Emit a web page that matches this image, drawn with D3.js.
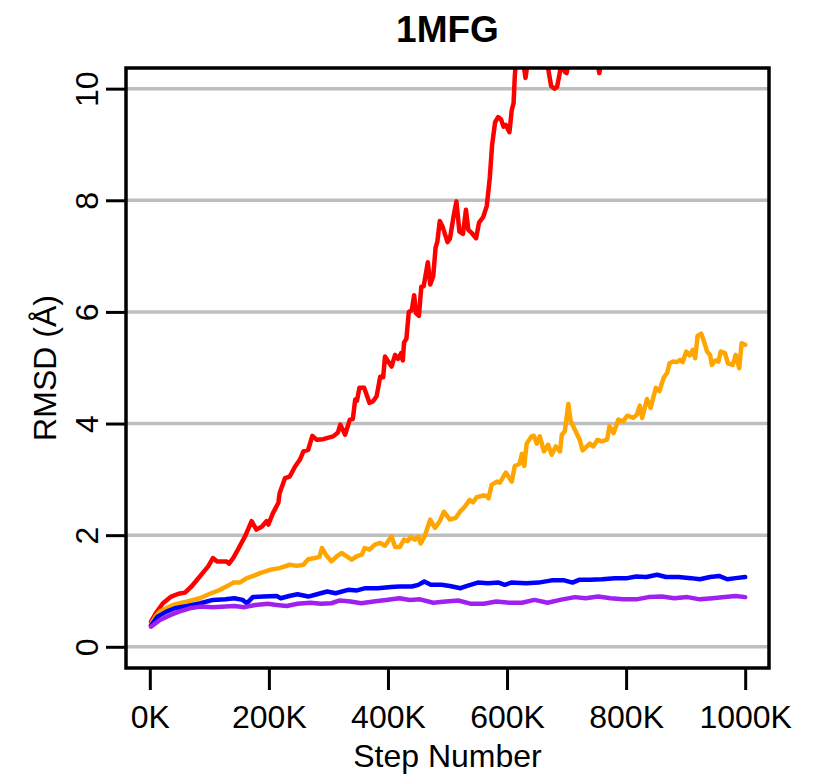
<!DOCTYPE html>
<html>
<head>
<meta charset="utf-8">
<script src="https://cdn.jsdelivr.net/npm/d3@7"></script>
<style>
body { margin: 0; background: #fff; }
svg text { font-family: "Liberation Sans", Arial, Helvetica, sans-serif; fill: #000; }
</style>
</head>
<body>
<script>
// step number is in thousands (K)
var xTicks = [0, 200, 400, 600, 800, 1000];
var yTicks = [0, 2, 4, 6, 8, 10];

var redStep = [2,10,22,36,48,59,70,84,98,106,113,129,133,140,148,160,171,179,188,196,199,207,216,218,227,235,238,244,252,258,266,273,280,291,308,316,320,328,336,341,345,348,352,360,369,375,381,387,392,395,406,412,417,422,425,427,431,435,440,444,447,452,456,460,467,471,476,480,483,487,492,500,504,510,515,520,526,531,535,541,548,553,560,566,571,575,580,585,590,594,598,604,608,611,613,616,622,627,631,635,642,655,665,670,674,680,684,688,692,697,700,704,712,730,748,755,760,775,800,830,860,900,940,1000];
var redRmsd = [0.45,0.6,0.78,0.90,0.95,0.97,1.08,1.26,1.44,1.59,1.53,1.53,1.49,1.59,1.74,1.98,2.25,2.10,2.15,2.25,2.19,2.40,2.58,2.75,3.02,3.05,3.11,3.23,3.35,3.50,3.53,3.78,3.71,3.72,3.77,3.84,3.98,3.80,4.07,4.08,4.43,4.41,4.64,4.64,4.37,4.40,4.49,4.84,4.83,5.20,5.02,5.23,5.16,5.26,5.13,5.45,5.52,6.00,6.03,6.30,5.98,5.93,6.45,6.46,6.89,6.49,6.64,7.15,7.26,7.63,7.52,7.25,7.31,7.70,7.98,7.44,7.40,7.83,7.47,7.41,7.32,7.60,7.70,7.90,8.40,9.00,9.40,9.49,9.45,9.32,9.35,9.22,9.62,9.74,10.22,10.6,10.9,10.5,10.19,10.5,10.9,11.0,10.7,10.3,10.05,10.0,10.03,10.25,10.5,10.3,10.28,10.5,10.9,11.1,10.7,10.28,10.6,11.2,11.6,11.9,12.3,12.6,12.9,13.2];

var orangeStep = [2,10,17,28,39,50,62,73,84,101,118,134,140,151,163,174,185,202,218,235,247,258,266,277,285,289,297,305,314,322,331,339,347,356,361,369,378,387,395,406,412,420,427,433,438,445,451,455,462,471,479,487,494,504,514,521,529,537,543,549,560,566,569,574,583,588,598,608,613,621,625,629,633,641,645,650,655,662,669,675,682,689,692,697,703,707,714,722,727,739,745,752,759,768,772,779,787,795,802,812,818,823,827,835,841,850,856,863,869,873,879,885,891,895,901,907,912,916,920,926,930,936,941,944,950,955,959,966,971,979,984,990,994,1000];
var orangeRmsd = [0.40,0.55,0.63,0.69,0.75,0.78,0.81,0.84,0.87,0.95,1.02,1.11,1.15,1.15,1.23,1.27,1.32,1.38,1.41,1.47,1.45,1.47,1.57,1.59,1.61,1.77,1.63,1.53,1.62,1.68,1.62,1.56,1.62,1.65,1.77,1.74,1.83,1.86,1.81,1.98,1.79,1.79,1.92,1.89,1.97,1.92,1.97,1.85,1.99,2.28,2.13,2.25,2.42,2.28,2.31,2.42,2.51,2.63,2.59,2.68,2.71,2.70,2.66,2.90,2.96,2.94,3.12,2.96,3.24,3.28,3.46,3.24,3.64,3.77,3.78,3.64,3.77,3.50,3.62,3.44,3.59,3.50,3.80,3.86,4.35,4.04,3.89,3.71,3.52,3.64,3.59,3.71,3.68,3.71,3.95,3.83,4.07,4.04,4.14,4.10,4.16,4.32,4.10,4.44,4.28,4.64,4.58,4.82,4.91,5.08,5.11,5.10,5.14,5.10,5.29,5.22,5.32,5.17,5.57,5.61,5.50,5.29,5.23,5.05,5.13,5.11,5.29,5.26,5.08,5.05,5.23,4.99,5.44,5.41];

var blueStep = [2,13,28,42,63,85,106,127,142,156,163,173,191,213,220,234,248,266,284,298,312,333,348,362,383,405,419,440,451,461,472,490,504,522,533,551,568,586,596,607,632,653,675,696,710,721,739,760,781,802,817,834,852,867,888,909,924,941,956,970,984,1000];
var blueRmsd = [0.38,0.54,0.63,0.69,0.73,0.78,0.84,0.85,0.87,0.84,0.78,0.89,0.90,0.91,0.87,0.91,0.94,0.90,0.95,0.99,0.96,1.02,1.01,1.05,1.05,1.07,1.08,1.08,1.11,1.17,1.11,1.11,1.09,1.05,1.09,1.15,1.14,1.15,1.11,1.15,1.14,1.15,1.19,1.19,1.15,1.20,1.20,1.21,1.23,1.23,1.26,1.25,1.29,1.25,1.25,1.23,1.21,1.25,1.27,1.21,1.23,1.25];

var purpleStep = [2,17,35,49,67,85,106,127,142,159,177,198,213,230,248,270,287,305,319,337,355,376,397,419,437,454,476,497,518,540,561,582,604,625,646,668,689,714,732,753,774,795,817,838,860,881,903,924,945,966,984,1000];
var purpleRmsd = [0.36,0.48,0.57,0.63,0.69,0.72,0.71,0.72,0.73,0.71,0.75,0.77,0.75,0.73,0.77,0.79,0.77,0.78,0.83,0.81,0.78,0.81,0.84,0.87,0.84,0.85,0.79,0.81,0.83,0.77,0.77,0.81,0.79,0.79,0.84,0.79,0.84,0.89,0.87,0.90,0.87,0.85,0.85,0.89,0.90,0.87,0.89,0.85,0.87,0.89,0.91,0.89];

var series = [
    {name: "red", step: redStep, rmsd: redRmsd, color: "#ff0000"},
    {name: "orange", step: orangeStep, rmsd: orangeRmsd, color: "#ffa500"},
    {name: "blue", step: blueStep, rmsd: blueRmsd, color: "#0000ff"},
    {name: "purple", step: purpleStep, rmsd: purpleRmsd, color: "#a020f0"}
];

var W = 820, H = 778;
var box = {left: 126, right: 769, top: 68, bottom: 668};

var x = d3.scaleLinear().domain([-40, 1040]).range([box.left, box.right]);
var y = d3.scaleLinear().domain([-0.38, 10.37]).range([box.bottom, box.top]);

var svg = d3.select("body").append("svg")
    .attr("width", W)
    .attr("height", H);

svg.append("defs").append("clipPath")
    .attr("id", "plotclip")
    .append("rect")
    .attr("x", box.left)
    .attr("y", box.top)
    .attr("width", box.right - box.left)
    .attr("height", box.bottom - box.top);

// grid lines
svg.append("g").selectAll("line")
    .data(yTicks)
    .enter().append("line")
    .attr("x1", box.left)
    .attr("x2", box.right)
    .attr("y1", function(d){ return y(d); })
    .attr("y2", function(d){ return y(d); })
    .style("stroke", "#bebebe")
    .style("stroke-width", 3.5);

// series
var line = d3.line()
    .x(function(d){ return x(d[0]); })
    .y(function(d){ return y(d[1]); });

svg.append("g")
    .attr("clip-path", "url(#plotclip)")
    .selectAll("path")
    .data(series)
    .enter().append("path")
    .attr("d", function(s){ return line(d3.zip(s.step, s.rmsd)); })
    .style("fill", "none")
    .style("stroke", function(s){ return s.color; })
    .style("stroke-width", 4.5)
    .style("stroke-linejoin", "round")
    .style("stroke-linecap", "round");

// box
svg.append("rect")
    .attr("x", box.left)
    .attr("y", box.top)
    .attr("width", box.right - box.left)
    .attr("height", box.bottom - box.top)
    .style("fill", "none")
    .style("stroke", "#000")
    .style("stroke-width", 3.5);

// x axis
var xAxis = d3.axisBottom(x)
    .tickValues(xTicks)
    .tickSize(22)
    .tickPadding(10)
    .tickFormat(function(d){ return d + "K"; });

var gx = svg.append("g")
    .attr("transform", "translate(0," + box.bottom + ")")
    .call(xAxis);
gx.select(".domain").remove();
gx.selectAll(".tick line").style("stroke", "#000").style("stroke-width", 3);
gx.selectAll(".tick text")
    .attr("y", 60)
    .attr("dy", null)
    .style("font-size", "32px");

// y axis
var yAxis = d3.axisLeft(y)
    .tickValues(yTicks)
    .tickSize(20)
    .tickFormat(d3.format("d"));

var gy = svg.append("g")
    .attr("transform", "translate(" + box.left + ",0)")
    .call(yAxis);
gy.select(".domain").remove();
gy.selectAll(".tick line").style("stroke", "#000").style("stroke-width", 3);
gy.selectAll(".tick text")
    .attr("x", null)
    .attr("dy", null)
    .attr("transform", "translate(-28,0) rotate(-90)")
    .style("text-anchor", "middle")
    .style("font-size", "32px");

// titles
svg.append("text")
    .attr("x", (box.left + box.right) / 2)
    .attr("y", 42)
    .style("text-anchor", "middle")
    .style("font-weight", "bold")
    .style("font-size", "37px")
    .text("1MFG");

svg.append("text")
    .attr("x", (box.left + box.right) / 2)
    .attr("y", 767)
    .style("text-anchor", "middle")
    .style("font-size", "32px")
    .text("Step Number");

svg.append("text")
    .attr("transform", "translate(56," + ((box.top + box.bottom) / 2) + ") rotate(-90)")
    .style("text-anchor", "middle")
    .style("font-size", "32px")
    .text("RMSD (Å)");
</script>
</body>
</html>
